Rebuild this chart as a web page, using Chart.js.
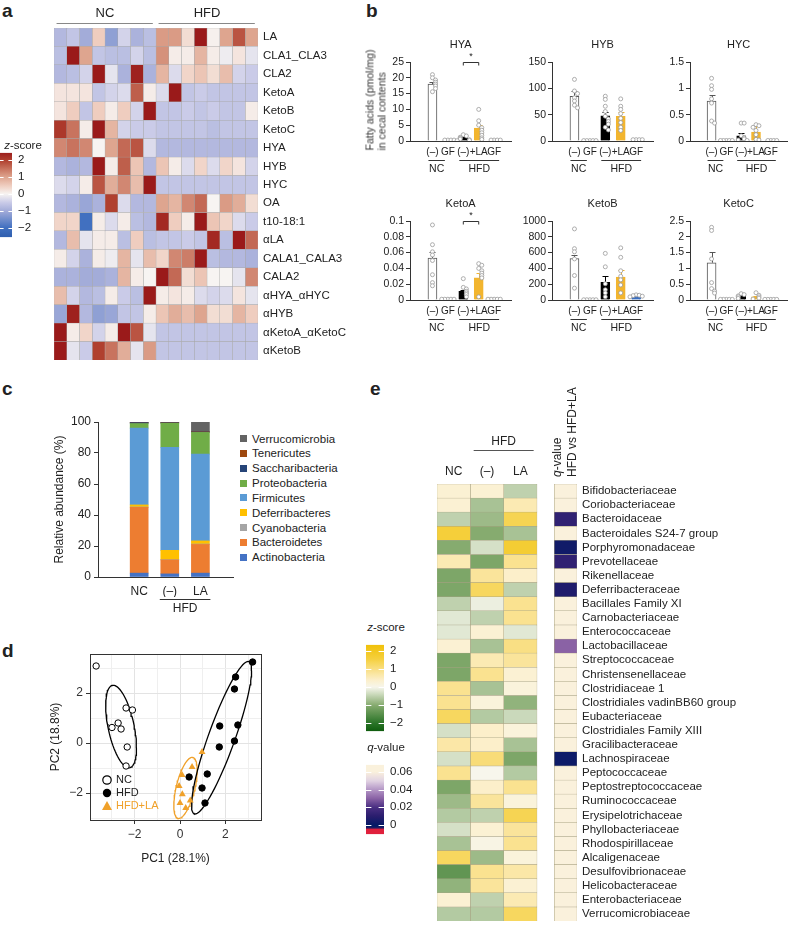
<!DOCTYPE html>
<html>
<head>
<meta charset="utf-8">
<title>Linoleic acid metabolites and gut microbiota</title>
<script src="https://cdn.jsdelivr.net/npm/chart.js@4.4.1/dist/chart.umd.min.js"></script>
<style>
  body { margin: 0; width: 792px; height: 933px; position: relative; overflow: hidden; background: #fff;
         font-family: 'Liberation Sans', Arial, Helvetica, sans-serif; color: #222; }
  canvas { position: absolute; }
  .t { position: absolute; white-space: nowrap; line-height: 1.1; }
  .panel { position: absolute; font-weight: bold; font-size: 19px; line-height: 19px; }
  .sw { position: absolute; width: 7px; height: 7px; }
</style>
</head>
<body>
<div class="panel" style="left:2px;top:1px">a</div>
<div class="panel" style="left:366px;top:1px">b</div>
<div class="panel" style="left:2px;top:379px">c</div>
<div class="panel" style="left:370px;top:379px">e</div>
<div class="panel" style="left:2px;top:641px">d</div>
<script>
// ---------- panel a: fatty acid z-scores (8 NC mice, 8 HFD mice) ----------
const faRows = ['LA', 'CLA1_CLA3', 'CLA2', 'KetoA', 'KetoB', 'KetoC', 'HYA', 'HYB', 'HYC', 'OA', 't10-18:1',
  'αLA', 'CALA1_CALA3', 'CALA2', 'αHYA_αHYC', 'αHYB', 'αKetoA_αKetoC', 'αKetoB'];
const faDiets = ['NC', 'HFD'];
const faZ = [
  [-0.8, -0.6, -1.0, 0.5, -1.2, -0.4, -0.9, -0.7, 1.1, 1.1, 0.3, 2.6, 0.05, 1.0, 1.8, 1.0],
  [-0.7, 2.5, 1.0, -0.6, -0.7, -0.7, -0.4, -0.7, 1.2, 0.1, 0.1, 0.8, 0.1, -0.1, 0.2, -0.2],
  [-0.8, -0.7, -0.4, 2.5, -0.2, -0.9, 2.4, -0.9, 0.8, -0.3, 0.4, 0.6, 0.3, 0.7, -0.4, -0.5],
  [0.2, 0.2, 0.2, -0.6, -0.4, -0.3, 1.7, 0.1, -0.3, 2.6, -0.6, -0.5, -0.6, -0.6, -0.6, -0.6],
  [0.2, 0.5, -0.6, 0.5, 0.1, 0.5, -0.4, 2.6, -0.6, -0.6, -0.5, -0.6, -0.5, -0.6, -0.6, 0.1],
  [2.1, 1.5, 0.1, 2.5, 0.8, -0.4, -0.5, -0.5, -0.6, -0.6, -0.6, -0.6, -0.7, -0.6, -0.6, -0.6],
  [1.3, 1.5, 1.3, 0.0, 1.0, 1.6, 1.8, -0.3, -0.8, -0.8, -0.8, -0.8, -0.8, -0.8, -0.8, -0.8],
  [-0.8, -0.9, -0.8, 2.5, 0.1, 1.7, 0.6, -0.8, 0.6, 0.1, -0.3, 0.4, -0.3, 0.4, 0.2, -0.4],
  [-0.3, -0.4, 0.1, 1.8, 0.9, 1.3, 0.7, 2.6, -0.6, -0.6, -0.6, -0.6, -0.6, -0.6, -0.6, -0.6],
  [-0.8, -0.9, -1.1, -0.9, 2.0, -0.3, -0.8, -0.8, 1.0, 0.8, 1.3, 1.6, 0.0, 1.1, 0.9, 0.3],
  [0.4, 0.4, -2.0, 0.1, -0.3, 0.1, -0.7, -0.8, 2.3, 0.5, 0.1, 2.6, 0.6, 0.4, -0.3, -0.5],
  [-0.8, 0.7, -0.2, 0.1, 0.1, -0.7, 0.5, -0.7, -0.6, -0.6, -0.5, -0.6, 2.3, -0.7, 2.6, 1.6],
  [0.1, -0.4, -0.9, 0.1, -0.1, 0.8, -0.2, 0.7, 0.4, 1.3, 1.4, 2.6, -0.7, -0.8, -0.8, -0.9],
  [-0.9, -0.9, -1.0, -1.0, -0.9, 0.8, 0.1, 0.0, 2.6, 1.6, 0.3, 0.6, 0.0, 0.0, -0.2, 1.3],
  [0.7, -0.4, -0.8, -0.7, 0.1, -0.5, -0.7, 2.6, 0.1, 0.2, 0.1, -0.3, -0.4, -0.3, 0.2, -0.2],
  [-1.1, 2.4, -0.8, -1.2, -1.1, -0.6, -0.6, 0.1, 0.6, 0.9, 0.7, 1.0, 0.3, 0.3, 0.8, 0.5],
  [2.6, 0.1, 0.4, -0.4, 0.1, 2.5, 1.8, -0.2, -0.6, -0.6, -0.6, -0.6, -0.6, -0.6, -0.6, -0.6],
  [2.6, -0.2, -0.5, 2.0, 1.5, 0.9, -0.2, 1.1, -0.6, -0.6, -0.6, -0.6, -0.6, -0.6, -0.6, -0.6]
];

// ---------- panel b: cecal fatty acids (pmol/mg), mean, sem, individual mice ----------
const faGroupLabels = ['(–)', 'GF', '(–)', '+LA', 'GF'];
const hyaTicks = [0, 5, 10, 15, 20, 25];
const hyaMean = [18.0, 0.3, 1.0, 4.1, 0.3];
const hyaSem = [0.8, 0, 0.4, 0.9, 0];
const hyaDots = [[21.0, 20.0, 19.3, 18.6, 18.0, 17.4, 16.6, 15.6], [0.3, 0.3, 0.3, 0.3],
  [2.0, 1.6, 1.2, 0.9, 0.6, 0.4, 0.2, 0.1], [10.0, 6.4, 5.0, 4.2, 3.4, 2.6, 1.8, 1.0, 0.5], [0.3, 0.3, 0.3, 0.3]];
const hybTicks = [0, 50, 100, 150];
const hybMean = [85, 0.8, 48, 47, 2.5];
const hybSem = [9, 0, 7, 8, 0];
const hybDots = [[117, 95, 90, 82, 76, 68, 63], [0.8, 0.8, 0.8, 0.8, 0.8],
  [85, 79, 66, 56, 47, 42, 37, 32, 26, 21], [80, 66, 60, 52, 43, 35, 26, 20], [2.5, 2.5, 2.5, 2.5]];
const hycTicks = [0, 0.5, 1, 1.5];
const hycMean = [0.76, 0.01, 0.1, 0.17, 0.01];
const hycSem = [0.12, 0, 0.05, 0.12, 0];
const hycDots = [[1.19, 1.05, 0.98, 0.8, 0.72, 0.38, 0.34], [0.01, 0.01, 0.01, 0.01, 0.01],
  [0.34, 0.34, 0.1, 0.06, 0.04, 0.02, 0.01], [0.31, 0.29, 0.26, 0.2, 0.12, 0.03, 0.02], [0.01, 0.01, 0.01, 0.01]];
const ketoATicks = [0, 0.02, 0.04, 0.06, 0.08, 0.1];
const ketoAMean = [0.053, 0.001, 0.011, 0.028, 0.001];
const ketoASem = [0.008, 0, 0.002, 0.006, 0];
const ketoADots = [[0.095, 0.07, 0.061, 0.057, 0.05, 0.032, 0.022, 0.018], [0.001, 0.001, 0.001, 0.001, 0.001],
  [0.027, 0.016, 0.014, 0.011, 0.009, 0.007, 0.004], [0.046, 0.044, 0.04, 0.037, 0.034, 0.031, 0.028, 0.004],
  [0.001, 0.001, 0.001, 0.001, 0.001]];
const ketoBTicks = [0, 200, 400, 600, 800, 1000];
const ketoBMean = [525, 3, 225, 290, 48];
const ketoBSem = [45, 0, 80, 85, 8];
const ketoBDots = [[900, 650, 610, 520, 310, 150], [3, 3, 3, 3, 3],
  [590, 420, 205, 130, 90, 40], [660, 540, 370, 300, 255, 190, 90], [65, 60, 55, 48, 40]];
const ketoCTicks = [0, 0.5, 1, 1.5, 2, 2.5];
const ketoCMean = [1.18, 0.02, 0.13, 0.1, 0.02];
const ketoCSem = [0.35, 0, 0.03, 0.03, 0];
const ketoCDots = [[2.3, 2.2, 1.3, 0.55, 0.36, 0.28, 0.22], [0.02, 0.02, 0.02, 0.02, 0.02],
  [0.2, 0.17, 0.13, 0.1, 0.05], [0.23, 0.15, 0.1, 0.06, 0.03], [0.02, 0.02, 0.02, 0.02, 0.02]];

// ---------- panel c: phylum relative abundance (%) ----------
const phyla = ['Actinobacteria', 'Bacteroidetes', 'Cyanobacteria', 'Deferribacteres', 'Firmicutes',
  'Proteobacteria', 'Saccharibacteria', 'Tenericutes', 'Verrucomicrobia'];
const microGroups = ['NC', '(–)', 'LA'];
const abundNC = [2.5, 42.5, 0.2, 1.3, 49.5, 3.0, 0.6, 0.2, 0.2];
const abundHFD = [2.0, 9.0, 0.2, 6.0, 66.5, 15.5, 0.3, 0.2, 0.3];
const abundLA = [2.5, 18.5, 0.3, 2.0, 56.0, 14.0, 0.3, 0.2, 6.2];

// ---------- panel d: PCA scores ----------
const pcaNC = [[-3.7, 3.08], [-2.38, 1.4], [-2.1, 1.32], [-2.73, 0.8], [-3.0, 0.62], [-2.6, 0.56], [-2.33, -0.16], [-2.38, -0.92]];
const pcaHFD = [[3.2, 3.24], [2.45, 2.64], [2.4, 2.16], [2.55, 0.72], [1.75, 0.68], [2.4, 0.08], [1.73, -0.16],
  [1.2, -1.24], [0.4, -1.36], [0.97, -1.8], [1.1, -2.4]];
const pcaLA = [[0.97, -0.36], [0.53, -0.96], [0.09, -1.28], [-0.04, -1.72], [0.1, -2.05], [0.0, -2.4], [0.25, -2.6], [0.45, -2.3]];

// ---------- panel e: family z-scores and q-values ----------
const families = ['Bifidobacteriaceae', 'Coriobacteriaceae', 'Bacteroidaceae', 'Bacteroidales S24-7 group',
  'Porphyromonadaceae', 'Prevotellaceae', 'Rikenellaceae', 'Deferribacteraceae', 'Bacillales Family XI',
  'Carnobacteriaceae', 'Enterococcaceae', 'Lactobacillaceae', 'Streptococcaceae', 'Christensenellaceae',
  'Clostridiaceae 1', 'Clostridiales vadinBB60 group', 'Eubacteriaceae', 'Clostridiales Family XIII',
  'Gracilibacteraceae', 'Lachnospiraceae', 'Peptococcaceae', 'Peptostreptococcaceae', 'Ruminococcaceae',
  'Erysipelotrichaceae', 'Phyllobacteriaceae', 'Rhodospirillaceae', 'Alcaligenaceae', 'Desulfovibrionaceae',
  'Helicobacteraceae', 'Enterobacteriaceae', 'Verrucomicrobiaceae'];
const famCols = ['NC', '(–)', 'LA'];
const famZNC = [0.3, 0.3, -0.5, 1.6, -1.0, 0.6, -1.1, -1.1, -0.5, -0.2, -0.2, 0.3, -1.1, -1.1, 0.9, 0.9,
  1.3, -0.3, 0.7, -0.3, 0.9, -1.1, -0.8, -0.6, -0.3, -0.7, 1.3, -1.4, -0.9, 0.3, -0.6];
const famZHFD = [0.3, -0.7, -0.8, -1.0, -0.3, -1.1, 0.8, 1.3, -0.1, -0.5, 0.3, -0.7, 0.6, 0.9, -0.7, 0.2,
  -0.6, 0.4, 0.4, 1.1, 0.0, 0.4, 0.8, -0.5, 0.3, 0.1, -0.8, 0.9, 0.8, -0.5, -0.6];
const famZLA = [-0.5, 0.6, 1.4, -0.7, 1.7, 0.9, 0.4, -0.5, 0.9, 0.9, -0.2, 1.0, 0.8, 0.3, 0.2, -0.9,
  -0.4, 0.2, -0.7, -1.1, -0.6, 0.9, 0.2, 1.4, 0.8, 0.9, 0.2, 0.7, 0.3, 0.6, 1.3];
const famQ = [0.08, 0.08, 0.012, 0.08, 0.003, 0.012, 0.08, 0.007, 0.08, 0.08, 0.08, 0.03, 0.08, 0.08, 0.08, 0.08,
  0.08, 0.08, 0.08, 0.002, 0.08, 0.08, 0.08, 0.08, 0.08, 0.08, 0.08, 0.08, 0.08, 0.08, 0.08];

// ---------- helpers ----------
const FONT = "'Liberation Sans', Arial, Helvetica, sans-serif";
Chart.defaults.font.family = FONT;
Chart.defaults.color = '#222';
Chart.defaults.animation = false;
Chart.defaults.responsive = false;
Chart.defaults.devicePixelRatio = 1;
Chart.defaults.plugins.legend.display = false;
Chart.defaults.plugins.tooltip.enabled = false;

function mkCanvas(x, y, w, h) {
  const c = document.createElement('canvas');
  c.width = w; c.height = h;
  c.style.left = x + 'px'; c.style.top = y + 'px';
  c.style.width = w + 'px'; c.style.height = h + 'px';
  document.body.appendChild(c);
  return c.getContext('2d');
}

function label(html, x, y, size, extra, color) {
  const d = document.createElement('div');
  d.className = 't';
  d.innerHTML = html;
  d.style.left = x + 'px'; d.style.top = y + 'px'; d.style.fontSize = size + 'px';
  d.style.transform = 'translate(-50%,-50%)' + (extra || '');
  if (color) d.style.color = color;
  document.body.appendChild(d);
}

const rgb = c => 'rgb(' + c.map(Math.round).join(',') + ')';
function ramp(stops) {
  const p = stops.map(([v, h]) => [v, [1, 3, 5].map(i => parseInt(h.slice(i, i + 2), 16))]);
  return v => {
    if (v <= p[0][0]) return rgb(p[0][1]);
    for (let i = 1; i < p.length; i++) {
      if (v <= p[i][0]) {
        const t = (v - p[i - 1][0]) / (p[i][0] - p[i - 1][0]);
        return rgb(p[i - 1][1].map((c, k) => c + (p[i][1][k] - c) * t));
      }
    }
    return rgb(p[p.length - 1][1]);
  };
}
const redBlue = ramp([[-2.5, '#3060b0'], [-2, '#4170c0'], [-1, '#a3acd9'], [-0.5, '#cacbe8'], [0, '#f7f4f2'],
  [0.5, '#efcdbf'], [1, '#dea58f'], [1.5, '#c8735e'], [2, '#b0402f'], [2.5, '#9a1a1a']]);
const greenGold = ramp([[-2.5, '#0b5a0b'], [-2, '#2a7428'], [-1, '#86ab6f'], [-0.4, '#cad9bb'], [0, '#f7f6ec'],
  [0.4, '#fcefca'], [1, '#f9df84'], [1.6, '#f5cf3a'], [2.5, '#efbe00']]);
const qScale = ramp([[-0.0102, '#e0203c'], [-0.004, '#e0203c'], [-0.0035, '#061a66'], [0, '#061a66'],
  [0.01, '#2a1d6e'], [0.02, '#4a2f82'], [0.03, '#8a62a5'], [0.04, '#b497c6'], [0.05, '#e2d3e3'], [0.06, '#faf1dc']]);
const minus = v => (v < 0 ? '\u2212' + (-v) : String(v));

// colour key: gradient bar painted from the y scale, white tick dashes across it
const keyPaint = {
  id: 'keyPaint',
  beforeDatasetsDraw(chart) {
    const { ctx, chartArea: a, scales: { y } } = chart;
    const key = chart.config.options.keySpec;
    const y0 = y.getPixelForValue(key.min), y1 = y.getPixelForValue(key.max);
    const g = ctx.createLinearGradient(0, y0, 0, y1);
    for (let i = 0; i <= 60; i++) g.addColorStop(i / 60, key.color(key.min + (key.max - key.min) * i / 60));
    ctx.save();
    ctx.fillStyle = g;
    ctx.fillRect(a.left, y1, a.right - a.left, y0 - y1);
    ctx.strokeStyle = '#fff'; ctx.lineWidth = 1;
    const w = a.right - a.left;
    y.ticks.forEach(t => {
      const py = Math.round(y.getPixelForValue(t.value)) + 0.5;
      ctx.beginPath();
      ctx.moveTo(a.left, py); ctx.lineTo(a.left + w * 0.3, py);
      ctx.moveTo(a.right - w * 0.3, py); ctx.lineTo(a.right, py);
      ctx.stroke();
    });
    ctx.restore();
  }
};

function colorKey(box, plot, min, max, ticks, color, fmt) {
  const ctx = mkCanvas(box[0], box[1], box[2], box[3]);
  new Chart(ctx, {
    type: 'bar',
    data: { labels: [''], datasets: [{ data: [[min, max]], backgroundColor: 'rgba(0,0,0,0)', borderWidth: 0 }] },
    options: {
      keySpec: { min, max, color },
      layout: { padding: { left: plot[0] - box[0], top: plot[1] - box[1], right: 0, bottom: box[1] + box[3] - plot[3] } },
      scales: {
        x: { display: false },
        y: { position: 'right', min, max,
          afterFit: s => { s.width = box[0] + box[2] - plot[2]; },
          afterBuildTicks: s => { s.ticks = ticks.map(v => ({ value: v })); },
          grid: { display: false, drawTicks: false }, border: { display: false },
          ticks: { padding: 6, font: { size: 11.5 }, color: '#222', callback: fmt } }
      }
    },
    plugins: [keyPaint]
  });
}

// ---------- panel a heatmap ----------
(function () {
  const box = [40, 0, 330, 372], plot = [54, 28, 258, 365.5];
  const ctx = mkCanvas(box[0], box[1], box[2], box[3]);
  const nCol = faZ[0].length;
  new Chart(ctx, {
    type: 'bar',
    data: {
      labels: faRows,
      datasets: faZ[0].map((_, j) => ({
        data: faRows.map(() => 1),
        backgroundColor: faRows.map((_, r) => redBlue(faZ[r][j])),
        borderColor: '#a9a9a9', borderWidth: 0.5, borderSkipped: false,
        barPercentage: 1, categoryPercentage: 1
      }))
    },
    options: {
      indexAxis: 'y',
      layout: { padding: { left: plot[0] - box[0], top: plot[1] - box[1], right: 0, bottom: box[1] + box[3] - plot[3] } },
      scales: {
        x: { stacked: true, display: false, min: 0, max: nCol },
        y: { stacked: true, position: 'right', afterFit: s => { s.width = box[0] + box[2] - plot[2]; },
          grid: { display: false, drawTicks: false }, border: { display: false },
          ticks: { padding: 5, autoSkip: false, font: { size: 11.5 }, color: '#222' } }
      }
    },
    plugins: [{
      id: 'dietHeader',
      afterDraw(chart) {
        const { ctx, chartArea: a, scales: { x } } = chart;
        const per = nCol / faDiets.length;
        ctx.save();
        ctx.font = '13px ' + FONT; ctx.fillStyle = '#222';
        ctx.textAlign = 'center'; ctx.textBaseline = 'middle';
        ctx.strokeStyle = '#888'; ctx.lineWidth = 1;
        faDiets.forEach((d, i) => {
          ctx.fillText(d, x.getPixelForValue(per * (i + 0.5)), a.top - 15);
          ctx.beginPath();
          ctx.moveTo(x.getPixelForValue(per * i + 0.2), a.top - 4.5);
          ctx.lineTo(x.getPixelForValue(per * (i + 1) - 0.25), a.top - 4.5);
          ctx.stroke();
        });
        ctx.restore();
      }
    }]
  });
})();
label('<i>z</i>-score', 23, 145, 11.5);
colorKey([0, 140, 40, 110], [0, 152, 12, 242], -2.56, 2.44, [-2, -1, 0, 1, 2], redBlue, minus);

// ---------- panel b bar charts ----------
const faFill = ['#ffffff', '#ffffff', '#000000', '#f2b52f', '#ffffff'];
const faEdge = ['#555555', '#9a9a9a', '#000000', '#f2b52f', '#9a9a9a'];

function swarm(vals, top) {
  const placed = [];
  return vals.map(v => {
    const near = placed.filter(p => Math.abs(p - v) < top * 0.035).length;
    placed.push(v);
    return Math.ceil(near / 2) * (near % 2 ? 1 : -1) * 0.2;
  });
}

function faChart(px, py, pw, title, ticks, mean, sem, dots, fill, edge, sig) {
  const ph = 79, lw = 36, top = 30, bot = 40;
  const ctx = mkCanvas(px - lw, py - top, lw + pw + 1, top + ph + bot);
  const ymax = ticks[ticks.length - 1];
  const pts = [];
  dots.forEach((vals, g) => {
    const offs = swarm(vals, ymax);
    vals.forEach((v, i) => pts.push({ x: g + offs[i], y: v }));
  });
  new Chart(ctx, {
    type: 'bar',
    data: { datasets: [
      { type: 'bar', order: 2, data: mean.map((v, i) => ({ x: i, y: v })),
        backgroundColor: fill, borderColor: edge, borderWidth: 1, barThickness: 9 },
      { type: 'scatter', order: 1, data: pts, pointRadius: 2, pointBorderWidth: 0.8,
        pointBorderColor: '#9a9a9a', pointBackgroundColor: '#ffffff' }
    ] },
    options: {
      layout: { padding: { left: 0, right: 1, top: top, bottom: bot - 20 } },
      scales: {
        x: { type: 'linear', min: -0.8, max: 4.45, afterFit: s => { s.height = 20; },
          afterBuildTicks: s => { s.ticks = faGroupLabels.map((_, i) => ({ value: i })); },
          grid: { display: false, drawTicks: false }, border: { color: '#333' },
          ticks: { padding: 5, minRotation: 0, maxRotation: 0, autoSkip: false, font: { size: 10 }, color: '#222',
            callback: v => faGroupLabels[v] } },
        y: { min: 0, max: ymax, afterFit: s => { s.width = lw; },
          afterBuildTicks: s => { s.ticks = ticks.map(v => ({ value: v })); },
          grid: { drawOnChartArea: false, tickLength: 4, color: '#333' }, border: { color: '#333' },
          ticks: { padding: 2, font: { size: 10.5 }, color: '#222', callback: v => String(+v.toFixed(3)) } }
      }
    },
    plugins: [{
      id: 'faDeco',
      afterDatasetDraw(chart, args) {
        if (args.index !== 0) return;
        const { ctx, scales: { x, y } } = chart;
        ctx.save(); ctx.lineWidth = 1;
        sem.forEach((s, i) => {
          if (!s) return;
          const cx = Math.round(x.getPixelForValue(i)) + 0.5;
          const y0 = y.getPixelForValue(mean[i]), y1 = Math.round(y.getPixelForValue(mean[i] + s)) + 0.5;
          ctx.strokeStyle = edge[i];
          ctx.beginPath();
          ctx.moveTo(cx, y0); ctx.lineTo(cx, y1);
          ctx.moveTo(cx - 3, y1); ctx.lineTo(cx + 3, y1);
          ctx.stroke();
        });
        ctx.restore();
      },
      afterDraw(chart) {
        const { ctx, chartArea: a, scales: { x } } = chart;
        ctx.save();
        ctx.fillStyle = '#222'; ctx.textAlign = 'center'; ctx.textBaseline = 'middle';
        ctx.font = '11px ' + FONT;
        ctx.fillText(title, (a.left + a.right) / 2, a.top - 17.5);
        ctx.strokeStyle = '#333'; ctx.lineWidth = 1;
        if (sig) {
          const x0 = x.getPixelForValue(sig[0]), x1 = x.getPixelForValue(sig[1]), yb = Math.round(a.top) + 0.5;
          ctx.beginPath();
          ctx.moveTo(x0, yb + 3); ctx.lineTo(x0, yb); ctx.lineTo(x1, yb); ctx.lineTo(x1, yb + 3);
          ctx.stroke();
          ctx.font = '9px ' + FONT;
          ctx.fillText('*', (x0 + x1) / 2, yb - 6);
        }
        ctx.font = '10.5px ' + FONT;
        const gy = Math.round(a.bottom + 19) + 0.5;
        [[0, 1, 'NC', -4, -3], [2, 4, 'HFD', -4, 5]].forEach(([f, t, name, l, r]) => {
          const x0 = x.getPixelForValue(f) + l, x1 = x.getPixelForValue(t) + r;
          ctx.beginPath(); ctx.moveTo(x0, gy); ctx.lineTo(x1, gy); ctx.stroke();
          ctx.fillText(name, (x0 + x1) / 2, a.bottom + 28);
        });
        ctx.restore();
      }
    }]
  });
}
const ketoBFill = faFill.slice(0, 4).concat(['#3b6fc0']);
const ketoBEdge = faEdge.slice(0, 4).concat(['#3b6fc0']);
faChart(410, 62, 105, 'HYA', hyaTicks, hyaMean, hyaSem, hyaDots, faFill, faEdge, [2, 3]);
faChart(552, 62, 105, 'HYB', hybTicks, hybMean, hybSem, hybDots, faFill, faEdge, null);
faChart(690, 62, 101, 'HYC', hycTicks, hycMean, hycSem, hycDots, faFill, faEdge, null);
faChart(410, 221, 105, 'KetoA', ketoATicks, ketoAMean, ketoASem, ketoADots, faFill, faEdge, [2, 3]);
faChart(552, 221, 105, 'KetoB', ketoBTicks, ketoBMean, ketoBSem, ketoBDots, ketoBFill, ketoBEdge, null);
faChart(690, 221, 101, 'KetoC', ketoCTicks, ketoCMean, ketoCSem, ketoCDots, faFill, faEdge, null);
label('Fatty acids (pmol/mg)<br>in cecal contents', 376, 100, 10.5, ' rotate(-90deg)', '#333');

// ---------- panel c stacked bars ----------
const phylaColors = ['#4472c4', '#ed7d31', '#a5a5a5', '#ffc000', '#5b9bd5', '#70ad47', '#264478', '#9e480e', '#636363'];
(function () {
  const abund = [abundNC, abundHFD, abundLA];
  const ctx = mkCanvas(48, 410, 192, 207);
  new Chart(ctx, {
    type: 'bar',
    data: { datasets: phyla.map((p, k) => ({
      label: p, data: microGroups.map((g, i) => ({ x: i, y: abund[i][k] })),
      backgroundColor: phylaColors[k], borderWidth: 0, barThickness: 18
    })) },
    options: {
      layout: { padding: { left: 0, top: 12, right: 7, bottom: 20 } },
      scales: {
        x: { type: 'linear', stacked: true, min: -0.61, max: 2.33, afterFit: s => { s.height = 20; },
          afterBuildTicks: s => { s.ticks = microGroups.map((_, i) => ({ value: i })); },
          grid: { display: false, drawTicks: false }, border: { color: '#333' },
          ticks: { padding: 7, minRotation: 0, maxRotation: 0, font: { size: 12 }, color: '#222', callback: v => microGroups[v] } },
        y: { stacked: true, min: 0, max: 100, afterFit: s => { s.width = 50; },
          afterBuildTicks: s => { s.ticks = [0, 20, 40, 60, 80, 100].map(v => ({ value: v })); },
          grid: { drawOnChartArea: false, tickLength: 4, color: '#333' }, border: { color: '#333' },
          ticks: { padding: 3, font: { size: 12 }, color: '#222' },
          title: { display: true, text: 'Relative abundance (%)', font: { size: 12 }, color: '#222' } }
      }
    },
    plugins: [{
      id: 'hfdBracket',
      afterDraw(chart) {
        const { ctx, chartArea: a, scales: { x } } = chart;
        const x0 = x.getPixelForValue(1) - 10, x1 = x.getPixelForValue(2) + 10, gy = Math.round(a.bottom + 22) + 0.5;
        ctx.save();
        ctx.strokeStyle = '#333'; ctx.lineWidth = 1;
        ctx.beginPath(); ctx.moveTo(x0, gy); ctx.lineTo(x1, gy); ctx.stroke();
        ctx.fillStyle = '#222'; ctx.font = '12px ' + FONT; ctx.textAlign = 'center'; ctx.textBaseline = 'middle';
        ctx.fillText('HFD', (x0 + x1) / 2, a.bottom + 32);
        ctx.restore();
      }
    }]
  });
  phyla.slice().reverse().forEach((p, i) => {
    const k = phyla.length - 1 - i, yc = 438.5 + i * 14.85;
    const sq = document.createElement('div');
    sq.className = 'sw';
    sq.style.left = '240px'; sq.style.top = (yc - 3.5) + 'px'; sq.style.background = phylaColors[k];
    document.body.appendChild(sq);
    const d = document.createElement('div');
    d.className = 't'; d.textContent = p;
    d.style.left = '252px'; d.style.top = yc + 'px'; d.style.fontSize = '11.5px';
    d.style.transform = 'translateY(-50%)';
    document.body.appendChild(d);
  });
})();

// ---------- panel d PCA ----------
// quantile of F(2, d), closed form
const qf2 = (p, d) => (d / 2) * (Math.pow(1 - p, -2 / d) - 1);
const ellipseLevel = 0.75;
function tEllipse(pts) {
  const n = pts.length, nu = 5;
  let w = pts.map(() => 1), c = [0, 0], S = [1, 0, 1];
  const cov = norm => {
    let a = 0, b = 0, d = 0;
    pts.forEach((p, i) => {
      const dx = p[0] - c[0], dy = p[1] - c[1];
      a += w[i] * dx * dx; b += w[i] * dx * dy; d += w[i] * dy * dy;
    });
    return [a / norm, b / norm, d / norm];
  };
  for (let it = 0; it < 100; it++) {
    const sw = w.reduce((s, v) => s + v, 0);
    c = [0, 1].map(k => pts.reduce((s, p, i) => s + w[i] * p[k], 0) / sw);
    S = cov(sw);
    const det = S[0] * S[2] - S[1] * S[1];
    w = pts.map(p => {
      const dx = p[0] - c[0], dy = p[1] - c[1];
      return (nu + 2) / (nu + (S[2] * dx * dx - 2 * S[1] * dx * dy + S[0] * dy * dy) / det);
    });
  }
  S = cov(n);
  const r = Math.sqrt(2 * qf2(ellipseLevel, n - 1));
  const a = Math.sqrt(S[0]), b = S[1] / a, cc = Math.sqrt(S[2] - b * b);
  const out = [];
  for (let i = 0; i <= 80; i++) {
    const t = 2 * Math.PI * i / 80, co = Math.cos(t), si = Math.sin(t);
    out.push({ x: c[0] + r * co * a, y: c[1] + r * (co * b + si * cc) });
  }
  return out;
}
(function () {
  const orange = '#f0a12a';
  const ctx = mkCanvas(44, 640, 226, 230);
  const toXY = arr => arr.map(([x, y]) => ({ x, y }));
  const pcaGrid = {
    color: c => (c.tick && c.tick.value % 2 === 0 ? '#e3e3e3' : '#efefef'),
    tickColor: c => (c.tick && c.tick.value % 2 === 0 ? '#333' : 'rgba(0,0,0,0)'),
    tickLength: 4, lineWidth: 1
  };
  new Chart(ctx, {
    type: 'scatter',
    data: { datasets: [
      { data: toXY(pcaNC), pointRadius: 3.2, pointBorderWidth: 1, pointBorderColor: '#000', pointBackgroundColor: '#fff' },
      { data: toXY(pcaHFD), pointRadius: 3.2, pointBorderWidth: 1, pointBorderColor: '#000', pointBackgroundColor: '#000' },
      { data: toXY(pcaLA), pointStyle: 'triangle', pointRadius: 4, pointBorderWidth: 0, pointBackgroundColor: orange },
      { data: tEllipse(pcaNC), showLine: true, pointRadius: 0, borderColor: '#000', borderWidth: 1.3 },
      { data: tEllipse(pcaHFD), showLine: true, pointRadius: 0, borderColor: '#000', borderWidth: 1.3 },
      { data: tEllipse(pcaLA), showLine: true, pointRadius: 0, borderColor: orange, borderWidth: 1.3 }
    ] },
    options: {
      layout: { padding: { left: 0, top: 14, right: 9, bottom: 0 } },
      scales: {
        x: { min: -3.97, max: 3.57, afterFit: s => { s.height = 50; },
          afterBuildTicks: s => { s.ticks = [-3, -2, -1, 0, 1, 2, 3].map(v => ({ value: v })); },
          grid: pcaGrid, border: { display: false },
          ticks: { padding: 3, font: { size: 12 }, color: '#333', callback: v => (v % 2 === 0 ? minus(v) : '') },
          title: { display: true, text: 'PC1 (28.1%)', font: { size: 12 }, color: '#222' } },
        y: { min: -3.08, max: 3.56, afterFit: s => { s.width = 46; },
          afterBuildTicks: s => { s.ticks = [-3, -2, -1, 0, 1, 2, 3].map(v => ({ value: v })); },
          grid: pcaGrid, border: { display: false },
          ticks: { padding: 3, font: { size: 12 }, color: '#333', callback: v => (v % 2 === 0 ? minus(v) : '') },
          title: { display: true, text: 'PC2 (18.8%)', font: { size: 12 }, color: '#222' } }
      }
    },
    plugins: [{
      id: 'pcaFrame',
      afterDraw(chart) {
        const { ctx, chartArea: a } = chart;
        ctx.save();
        ctx.strokeStyle = '#333'; ctx.lineWidth = 1;
        ctx.strokeRect(Math.round(a.left) + 0.5, Math.round(a.top) + 0.5, Math.round(a.right - a.left), Math.round(a.bottom - a.top));
        const items = [['NC', '#222'], ['HFD', '#222'], ['HFD+LA', orange]];
        ctx.font = '11px ' + FONT; ctx.textBaseline = 'middle';
        items.forEach(([name, col], i) => {
          const mx = a.left + 17, my = a.bottom - 40 + i * 13;
          ctx.lineWidth = 1.2;
          if (i === 0) { ctx.beginPath(); ctx.arc(mx, my, 4.2, 0, 2 * Math.PI); ctx.fillStyle = '#fff'; ctx.fill(); ctx.strokeStyle = '#000'; ctx.stroke(); }
          if (i === 1) { ctx.beginPath(); ctx.arc(mx, my, 4.2, 0, 2 * Math.PI); ctx.fillStyle = '#000'; ctx.fill(); }
          if (i === 2) { ctx.beginPath(); ctx.moveTo(mx, my - 5); ctx.lineTo(mx + 5, my + 4); ctx.lineTo(mx - 5, my + 4); ctx.closePath(); ctx.fillStyle = orange; ctx.fill(); }
          ctx.fillStyle = col;
          ctx.fillText(name, mx + 9, my);
        });
        ctx.restore();
      }
    }]
  });
})();

// ---------- panel e heatmap ----------
(function () {
  const box = [430, 380, 362, 553], plot = [437, 484, 577, 930];
  const ctx = mkCanvas(box[0], box[1], box[2], box[3]);
  const zCols = [famZNC, famZHFD, famZLA];
  const qStart = 3.52, qEnd = 4.2;
  const cell = { borderColor: '#a8a283', borderWidth: 0.5, borderSkipped: false, barPercentage: 1, categoryPercentage: 1, grouped: false };
  const sets = zCols.map((col, j) => Object.assign({
    data: families.map(() => [j, j + 1]), backgroundColor: col.map(greenGold)
  }, cell));
  sets.push(Object.assign({ data: families.map(() => [qStart, qEnd]), backgroundColor: famQ.map(qScale) }, cell));
  new Chart(ctx, {
    type: 'bar',
    data: { labels: families, datasets: sets },
    options: {
      indexAxis: 'y',
      layout: { padding: { left: plot[0] - box[0], top: plot[1] - box[1], right: 0, bottom: box[1] + box[3] - plot[3] } },
      scales: {
        x: { display: false, min: 0, max: qEnd },
        y: { position: 'right', afterFit: s => { s.width = box[0] + box[2] - plot[2]; },
          grid: { display: false, drawTicks: false }, border: { display: false },
          ticks: { padding: 5, autoSkip: false, font: { size: 11.5 }, color: '#222' } }
      }
    },
    plugins: [{
      id: 'famHeader',
      afterDraw(chart) {
        const { ctx, chartArea: a, scales: { x } } = chart;
        ctx.save();
        ctx.fillStyle = '#222'; ctx.textAlign = 'center'; ctx.textBaseline = 'middle';
        ctx.font = '12px ' + FONT;
        famCols.forEach((c, j) => ctx.fillText(c, x.getPixelForValue(j + 0.5), a.top - 12));
        ctx.fillText('HFD', x.getPixelForValue(2), a.top - 42);
        ctx.strokeStyle = '#555'; ctx.lineWidth = 1;
        ctx.beginPath();
        ctx.moveTo(x.getPixelForValue(1.1), Math.round(a.top - 34) + 0.5);
        ctx.lineTo(x.getPixelForValue(2.9), Math.round(a.top - 34) + 0.5);
        ctx.stroke();
        const qc = x.getPixelForValue((qStart + qEnd) / 2);
        ctx.textAlign = 'left';
        ctx.save();
        ctx.translate(qc - 8, a.top - 7); ctx.rotate(-Math.PI / 2);
        ctx.font = 'italic 12px ' + FONT; ctx.fillText('q', 0, 0);
        const qw = ctx.measureText('q').width;
        ctx.font = '12px ' + FONT; ctx.fillText('-value', qw, 0);
        ctx.restore();
        ctx.save();
        ctx.translate(qc + 7, a.top - 7); ctx.rotate(-Math.PI / 2);
        ctx.fillText('HFD vs HFD+LA', 0, 0);
        ctx.restore();
        ctx.restore();
      }
    }]
  });
})();
label('<i>z</i>-score', 386, 627, 11.5);
colorKey([360, 632, 60, 112], [366, 640, 384, 737], -2.44, 2.35, [-2, -1, 0, 1, 2], greenGold, minus);
label('<i>q</i>-value', 386, 747, 11.5);
colorKey([360, 752, 60, 95], [366, 759, 384, 839], -0.0102, 0.0678, [0, 0.02, 0.04, 0.06], qScale, v => String(+v.toFixed(2)));
</script>
</body>
</html>
